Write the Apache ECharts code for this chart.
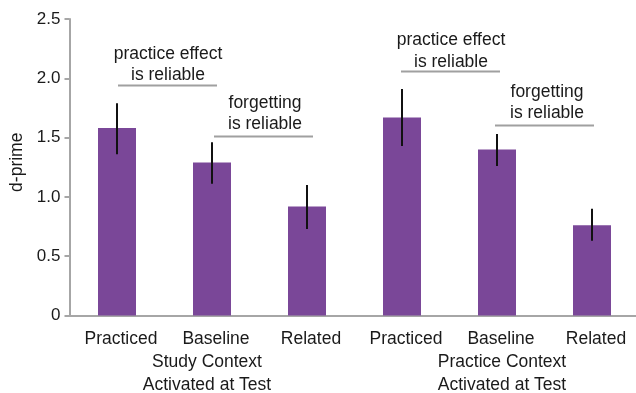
<!DOCTYPE html>
<html>
<head>
<meta charset="utf-8">
<script src="https://cdn.jsdelivr.net/npm/echarts@6/dist/echarts.min.js"></script>
<style>
  html, body { margin: 0; padding: 0; background: #fff; overflow: hidden; }
  #chart { width: 636px; height: 393px; }
</style>
</head>
<body>
<div id="chart"></div>
<script>
// Conditions along the x axis
var conditions = ['Practiced', 'Baseline', 'Related', 'Practiced', 'Baseline', 'Related'];
// Context groups shown under each triple of bars
var groups = ['Study Context\nActivated at Test', 'Practice Context\nActivated at Test'];
// Mean d-prime per condition
var dprime = [1.58, 1.29, 0.92, 1.67, 1.40, 0.76];
// Error bar ends (low, high) per condition
var errLow = [1.36, 1.11, 0.73, 1.43, 1.26, 0.63];
var errHigh = [1.79, 1.46, 1.10, 1.91, 1.53, 0.90];
// Y axis tick range
var yMin = 0, yMax = 2.5, yStep = 0.5;

var FONT = '"Liberation Sans", Arial, sans-serif';
var TEXT = '#1a1a1a';
var AXIS = '#a6a6a6';
var BAR = '#7a4798';
var NOTE_LINE = '#a0a0a0';

var chart = echarts.init(document.getElementById('chart'), null, { renderer: 'canvas' });

var errData = conditions.map(function (c, i) { return [i, errLow[i], errHigh[i]]; });

function textEl(cx, cy, str) {
  return { type: 'text', x: cx, y: cy, silent: true,
    style: { text: str, textAlign: 'center', textVerticalAlign: 'middle', font: '17.5px ' + FONT, fill: TEXT } };
}
function lineEl(x1, x2, y) {
  return { type: 'line', silent: true,
    shape: { x1: x1, y1: y, x2: x2, y2: y }, style: { stroke: NOTE_LINE, lineWidth: 2 } };
}

var option = {
  animation: false,
  backgroundColor: '#fff',
  grid: { left: 69.5, right: -3.5, top: 19, bottom: 77.5, containLabel: false, outerBoundsMode: 'none' },
  xAxis: [
    {
      type: 'category',
      data: conditions,
      axisLine: { show: true, lineStyle: { color: AXIS, width: 2 } },
      axisTick: { show: false },
      axisLabel: { margin: 15, fontSize: 17.5, fontFamily: FONT, color: TEXT, interval: 0, padding: [0, 0, 0, 8] }
    },
    {
      type: 'category',
      data: [
        { value: groups[0], textStyle: { padding: [0, 10, 0, 0] } },
        { value: groups[1], textStyle: { padding: [0, 0, 0, 10] } }
      ],
      position: 'bottom',
      axisLine: { show: false },
      axisTick: { show: false },
      axisLabel: { margin: 35, fontSize: 17.5, fontFamily: FONT, color: TEXT, lineHeight: 23, interval: 0 }
    }
  ],
  yAxis: {
    type: 'value',
    min: yMin,
    max: yMax,
    interval: yStep,
    name: 'd-prime',
    nameLocation: 'middle',
    nameGap: 43,
    nameTextStyle: { fontSize: 17.5, fontFamily: FONT, color: TEXT, padding: [0, 0, 0, 10] },
    axisLine: { show: true, lineStyle: { color: AXIS, width: 2 } },
    axisTick: { show: true, inside: false, length: 5, lineStyle: { color: AXIS, width: 2 } },
    splitLine: { show: false },
    axisLabel: {
      margin: 9, fontSize: 17, fontFamily: FONT, color: TEXT,
      formatter: function (v) { return v === 0 ? '0' : v.toFixed(1); }
    }
  },
  series: [
    {
      type: 'bar',
      data: dprime,
      barWidth: 38,
      itemStyle: { color: BAR },
      z: 2
    },
    {
      type: 'custom',
      data: errData,
      z: 3,
      renderItem: function (params, api) {
        var lo = api.coord([api.value(0), api.value(1)]);
        var hi = api.coord([api.value(0), api.value(2)]);
        return {
          type: 'line',
          shape: { x1: lo[0], y1: lo[1], x2: hi[0], y2: hi[1] },
          style: { stroke: '#111', lineWidth: 2 }
        };
      }
    }
  ],
  graphic: [
    textEl(168, 54, 'practice effect'),
    textEl(168, 75, 'is reliable'),
    lineEl(118, 217, 85.5),
    textEl(265, 103, 'forgetting'),
    textEl(265, 124, 'is reliable'),
    lineEl(214, 313, 136.5),
    textEl(451, 40, 'practice effect'),
    textEl(451, 62, 'is reliable'),
    lineEl(401, 500, 71.5),
    textEl(547, 92, 'forgetting'),
    textEl(547, 113, 'is reliable'),
    lineEl(495, 594, 125.5)
  ]
};

chart.setOption(option);
</script>
</body>
</html>
